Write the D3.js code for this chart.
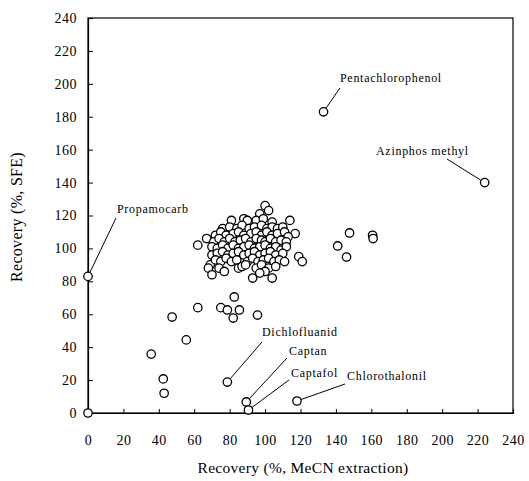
<!DOCTYPE html>
<html><head><meta charset="utf-8">
<script src="https://cdn.jsdelivr.net/npm/d3@7/dist/d3.min.js"></script>
<style>
html,body{margin:0;padding:0;background:#fff;}
svg{display:block;}
text{font-family:"Liberation Serif","Times New Roman",serif;fill:#000;}
</style></head>
<body>
<svg id="chart" width="529" height="481"></svg>
<script>
// ---- data ----
const xTicks = [0,20,40,60,80,100,120,140,160,180,200,220,240];
const yTicks = [0,20,40,60,80,100,120,140,160,180,200,220,240];
const xTitle = "Recovery (%, MeCN extraction)";
const yTitle = "Recovery (%, SFE)";

// cluster of unlabeled pesticides [MeCN recovery, SFE recovery]
const clusterX = [100,102,97, 81,88,90,95,99,104,114,
  76,80,84,87,91,94,98,101,104,107,110,
  72,75,78,82,85,88,92,95,98,101,104,107,111,117,113,
  67,71,74,77,80,83,86,89,92,95,98,100,103,106,109,112,
  62,70,73,76,79,82,85,88,91,94,97,100,103,106,109,112,
  70,73,76,79,82,85,88,91,94,97,100,103,106,110,119,
  69,72,75,78,81,84,90,93,96,99,102,105,108,111,121,
  68,74,85,87,89,95,98,102,106,100,
  70,93,104,97,77];
const clusterY = [126,123,121, 117,118,117,117,118,116,117,
  112,113,112,114,112,113,114,112,113,112,113,
  108,110,108,109,110,108,109,110,108,110,108,109,110,109,107,
  106,104,106,104,106,104,105,106,104,106,105,104,106,104,105,104,
  102,101,100,102,100,102,100,101,102,100,101,102,100,101,99,101,
  96,97,98,96,97,98,96,97,98,96,97,98,96,97,95,
  90,93,92,94,92,93,92,94,92,93,94,92,93,92,92,
  88,88,88,89,90,88,90,88,89,86,
  84,82,82,85,86];

// scattered unlabeled points
const otherX = [0, 147.7,160.7,161,141,146, 82.6,62,75,78.7,85.5,82,95.7,47.5,55.5,35.7,42.5,43];
const otherY = [0, 109.4,108,106,101.5,94.8, 70.5,64,64,62.6,62.6,57.7,59.5,58.3,44.4,35.8,20.7,12];

// labeled points
const labelNames = ["Propamocarb","Pentachlorophenol","Azinphos methyl","Dichlofluanid","Captan","Captafol","Chlorothalonil"];
const labelX = [0,133,224,78.7,89.4,90.6,118];
const labelY = [83,183,140,18.8,6.7,1.8,7.3];

// ---- layout ----
const svg = d3.select("#chart");
const x = d3.scaleLinear().domain([0,240]).range([88,513]);
const y = d3.scaleLinear().domain([0,240]).range([413,18]);

// frame
svg.append("rect").attr("x",x(0)).attr("y",y(240))
  .attr("width",x(240)-x(0)).attr("height",y(0)-y(240))
  .attr("fill","none").attr("stroke","#000").attr("stroke-width",1.2);

const gx = svg.append("g").attr("transform",`translate(0,${y(0)})`)
  .call(d3.axisBottom(x).tickValues(xTicks).tickSize(-4).tickPadding(22).tickFormat(d3.format("d")));
const gy = svg.append("g").attr("transform",`translate(${x(0)},0)`)
  .call(d3.axisLeft(y).tickValues(yTicks).tickSize(-5).tickPadding(11).tickFormat(d3.format("d")));
[gx,gy].forEach(g=>{
  g.select(".domain").attr("stroke","#000").attr("stroke-width",1.2);
  g.selectAll(".tick line").attr("stroke","#000").attr("stroke-width",1);
  g.selectAll(".tick text").attr("font-family","Liberation Serif, serif")
    .attr("font-size",14).attr("letter-spacing",0.5).attr("fill","#000");
});

// titles
svg.append("text").attr("x",303).attr("y",473).attr("text-anchor","middle")
  .attr("font-size",15.5).attr("letter-spacing",0.3).text(xTitle);
svg.append("text").attr("transform","translate(22,217) rotate(-90)")
  .attr("text-anchor","middle").attr("font-size",16).attr("letter-spacing",0.3).text(yTitle);

// leader lines & labels
const ends = [[116,218],[340,88],[447,159],[262,342],[287,358],[289,380],[345,384]];
const textPos = [[117,217],[340,86],[376,159],[262,340],[289,359],[291,381],[347,384]];
svg.append("g").selectAll("line").data(labelNames).join("line")
  .attr("x1",(d,i)=>{const px=x(labelX[i]),py=y(labelY[i]);const ex=ends[i][0],ey=ends[i][1];const L=Math.hypot(ex-px,ey-py);return px+(ex-px)/L*4.5;})
  .attr("y1",(d,i)=>{const px=x(labelX[i]),py=y(labelY[i]);const ex=ends[i][0],ey=ends[i][1];const L=Math.hypot(ex-px,ey-py);return py+(ey-py)/L*4.5;})
  .attr("x2",(d,i)=>ends[i][0]).attr("y2",(d,i)=>ends[i][1])
  .attr("stroke","#000").attr("stroke-width",1);
svg.append("g").selectAll("text").data(labelNames).join("text")
  .attr("x",(d,i)=>textPos[i][0]).attr("y",(d,i)=>textPos[i][1]-4)
  .attr("font-size",12).attr("letter-spacing",0.7).text(d=>d);

// points
const pts = [];
clusterX.forEach((v,i)=>pts.push([v,clusterY[i]]));
otherX.forEach((v,i)=>pts.push([v,otherY[i]]));
labelX.forEach((v,i)=>pts.push([v,labelY[i]]));
svg.append("g").selectAll("circle").data(pts).join("circle")
  .attr("cx",d=>x(d[0])).attr("cy",d=>y(d[1])).attr("r",4.2)
  .attr("fill","#fff").attr("stroke","#000").attr("stroke-width",1.3);
</script>
</body></html>
